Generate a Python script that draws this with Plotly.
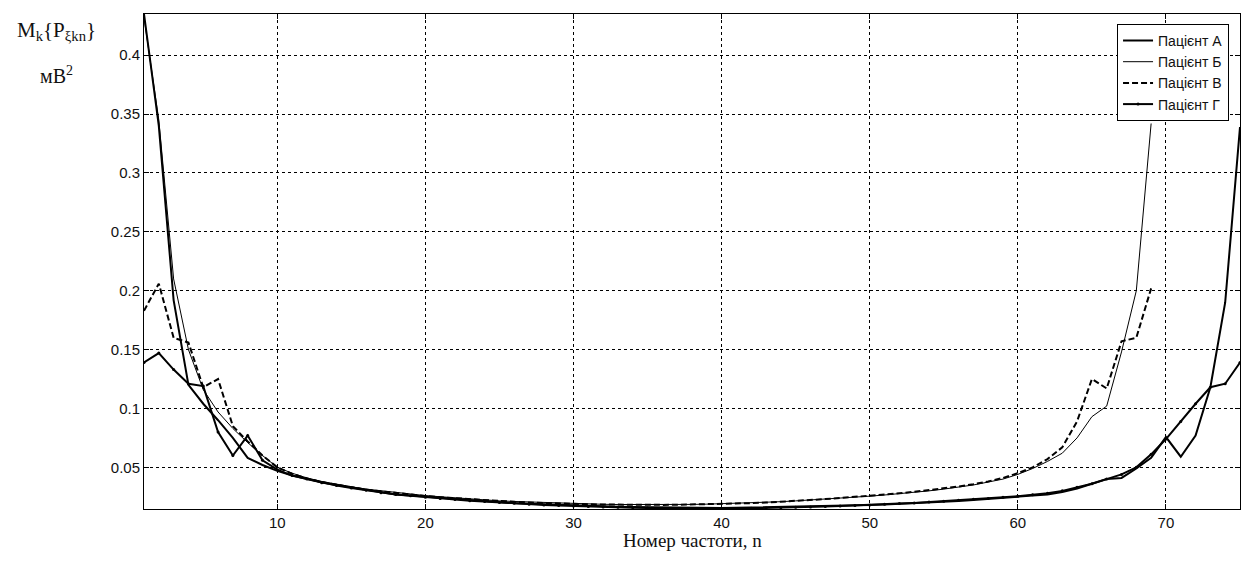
import plotly.graph_objects as go

# Frequency numbers
n_long = list(range(1, 76))   # patients A and Г
n_short = list(range(1, 70))  # patients Б and В

# Пацієнт А
patient_a = [0.435, 0.340, 0.192, 0.120, 0.104, 0.090, 0.075, 0.058, 0.052, 0.047,
             0.043, 0.040, 0.037, 0.035, 0.033, 0.031, 0.029, 0.027, 0.026, 0.025,
             0.024, 0.023, 0.022, 0.021, 0.020, 0.0195, 0.019, 0.0185, 0.018, 0.0175,
             0.017, 0.0168, 0.0165, 0.0162, 0.016, 0.0158, 0.0156, 0.0155, 0.0155, 0.0155,
             0.0156, 0.0158, 0.016, 0.0162, 0.0165, 0.0168, 0.017, 0.0173, 0.0176, 0.018,
             0.0185, 0.019, 0.0195, 0.020, 0.0207, 0.0215, 0.0222, 0.023, 0.024, 0.025,
             0.026, 0.027, 0.029, 0.032, 0.036, 0.040, 0.041, 0.049, 0.058, 0.0757,
             0.059, 0.077, 0.118, 0.190, 0.339]

# Пацієнт Б
patient_b = [0.432, 0.345, 0.210, 0.150, 0.116, 0.097, 0.083, 0.071, 0.060, 0.050,
             0.045, 0.041, 0.038, 0.0355, 0.0335, 0.0315, 0.030, 0.0285, 0.027, 0.026,
             0.025, 0.024, 0.023, 0.022, 0.0215, 0.021, 0.0205, 0.020, 0.0195, 0.019,
             0.0188, 0.0186, 0.0184, 0.0183, 0.0183, 0.0183, 0.0184, 0.0185, 0.0187, 0.019,
             0.0193, 0.0197, 0.0202, 0.0208, 0.0215, 0.0222, 0.023, 0.0238, 0.0246, 0.0255,
             0.0265, 0.0275, 0.0287, 0.030, 0.0315, 0.033, 0.035, 0.0375, 0.040, 0.044,
             0.049, 0.055, 0.062, 0.075, 0.093, 0.102, 0.148, 0.200, 0.342]

# Пацієнт В
patient_v = [0.183, 0.206, 0.160, 0.156, 0.118, 0.125, 0.085, 0.072, 0.060, 0.050,
             0.0445, 0.0405, 0.0375, 0.035, 0.033, 0.031, 0.0295, 0.028, 0.0267, 0.0256,
             0.0246, 0.0237, 0.0228, 0.022, 0.0213, 0.0207, 0.0201, 0.0196, 0.0192, 0.0189,
             0.0186, 0.0184, 0.0182, 0.0181, 0.0181, 0.0181, 0.0182, 0.0184, 0.0186, 0.0189,
             0.0192, 0.0196, 0.0201, 0.0207, 0.0214, 0.0222, 0.023, 0.0239, 0.0248, 0.0258,
             0.0268, 0.028, 0.0292, 0.0305, 0.032, 0.0337, 0.0357, 0.038, 0.041, 0.045,
             0.050, 0.057, 0.067, 0.089, 0.125, 0.117, 0.157, 0.160, 0.202]

# Пацієнт Г
patient_g = [0.139, 0.147, 0.133, 0.121, 0.119, 0.080, 0.060, 0.077, 0.056, 0.048,
             0.043, 0.040, 0.037, 0.0345, 0.0325, 0.0305, 0.0285, 0.027, 0.0258, 0.0246,
             0.0236, 0.0226, 0.0217, 0.0209, 0.0201, 0.0194, 0.0187, 0.0181, 0.0176, 0.0171,
             0.0167, 0.0163, 0.016, 0.0157, 0.0155, 0.0153, 0.0151, 0.015, 0.0149, 0.0149,
             0.015, 0.0152, 0.0154, 0.0157, 0.016, 0.0163, 0.0167, 0.0171, 0.0175, 0.018,
             0.0186, 0.0192, 0.0198, 0.0205, 0.0212, 0.022, 0.0228, 0.0236, 0.0245, 0.0255,
             0.0266, 0.028, 0.030, 0.033, 0.036, 0.040, 0.044, 0.050, 0.061, 0.074,
             0.089, 0.104, 0.118, 0.121, 0.139]

series_names = ["Пацієнт А", "Пацієнт Б", "Пацієнт В", "Пацієнт Г"]

x_ticks = [10, 20, 30, 40, 50, 60, 70]
y_ticks = [0.05, 0.1, 0.15, 0.2, 0.25, 0.3, 0.35, 0.4]
y_tick_text = ["0.05", "0.1", "0.15", "0.2", "0.25", "0.3", "0.35", "0.4"]

fig = go.Figure()
fig.add_trace(go.Scatter(x=n_long, y=patient_a, mode="lines", name=series_names[0],
                         line=dict(color="black", width=2)))
fig.add_trace(go.Scatter(x=n_short, y=patient_b, mode="lines", name=series_names[1],
                         line=dict(color="black", width=1)))
fig.add_trace(go.Scatter(x=n_short, y=patient_v, mode="lines", name=series_names[2],
                         line=dict(color="black", width=2, dash="6px,3px")))
fig.add_trace(go.Scatter(x=n_long, y=patient_g, mode="lines+markers", name=series_names[3],
                         line=dict(color="black", width=2),
                         marker=dict(color="black", size=3)))

tick_font = dict(family="Liberation Sans, Arial, sans-serif", size=15, color="#111")
serif = "Liberation Serif, Times New Roman, serif"

fig.update_layout(
    width=1242, height=569,
    margin=dict(l=144, r=2, t=14, b=60),
    paper_bgcolor="white", plot_bgcolor="white",
    showlegend=True,
    legend=dict(x=0.99, y=0.98, xanchor="right", yanchor="top",
                bgcolor="white", bordercolor="black", borderwidth=1,
                font=dict(family="Liberation Sans, Arial, sans-serif", size=14, color="#111"),
                tracegroupgap=0),
    xaxis=dict(range=[1, 75], tickvals=x_ticks, ticks="inside", ticklen=5,
               tickcolor="black", showline=True, linecolor="black", linewidth=1,
               mirror="ticks", showgrid=True, gridcolor="black", gridwidth=1,
               griddash="3px,3px", zeroline=False, tickfont=tick_font),
    yaxis=dict(range=[0.0146, 0.435], tickvals=y_ticks, ticktext=y_tick_text,
               ticks="inside", ticklen=5, tickcolor="black", showline=True,
               linecolor="black", linewidth=1, mirror="ticks", showgrid=True,
               gridcolor="black", gridwidth=1, griddash="3px,3px", zeroline=False,
               tickfont=tick_font),
    annotations=[
        dict(text="Номер частоти, n", x=0.5, y=-0.064, xref="paper", yref="paper",
             xanchor="center", yanchor="middle", showarrow=False,
             font=dict(family=serif, size=19, color="#111")),
        dict(text="M<sub>k</sub>{P<sub>ξkn</sub>}", x=-0.0794, y=0.966, xref="paper",
             yref="paper", xanchor="center", yanchor="middle", showarrow=False,
             font=dict(family=serif, size=21, color="#111")),
        dict(text="мВ<sup>2</sup>", x=-0.0794, y=0.877, xref="paper", yref="paper",
             xanchor="center", yanchor="middle", showarrow=False,
             font=dict(family=serif, size=20, color="#111")),
    ],
)

fig.write_html("out.html", config={"displayModeBar": False},
               post_script="document.body.style.margin='0';document.body.style.overflow='hidden';")
